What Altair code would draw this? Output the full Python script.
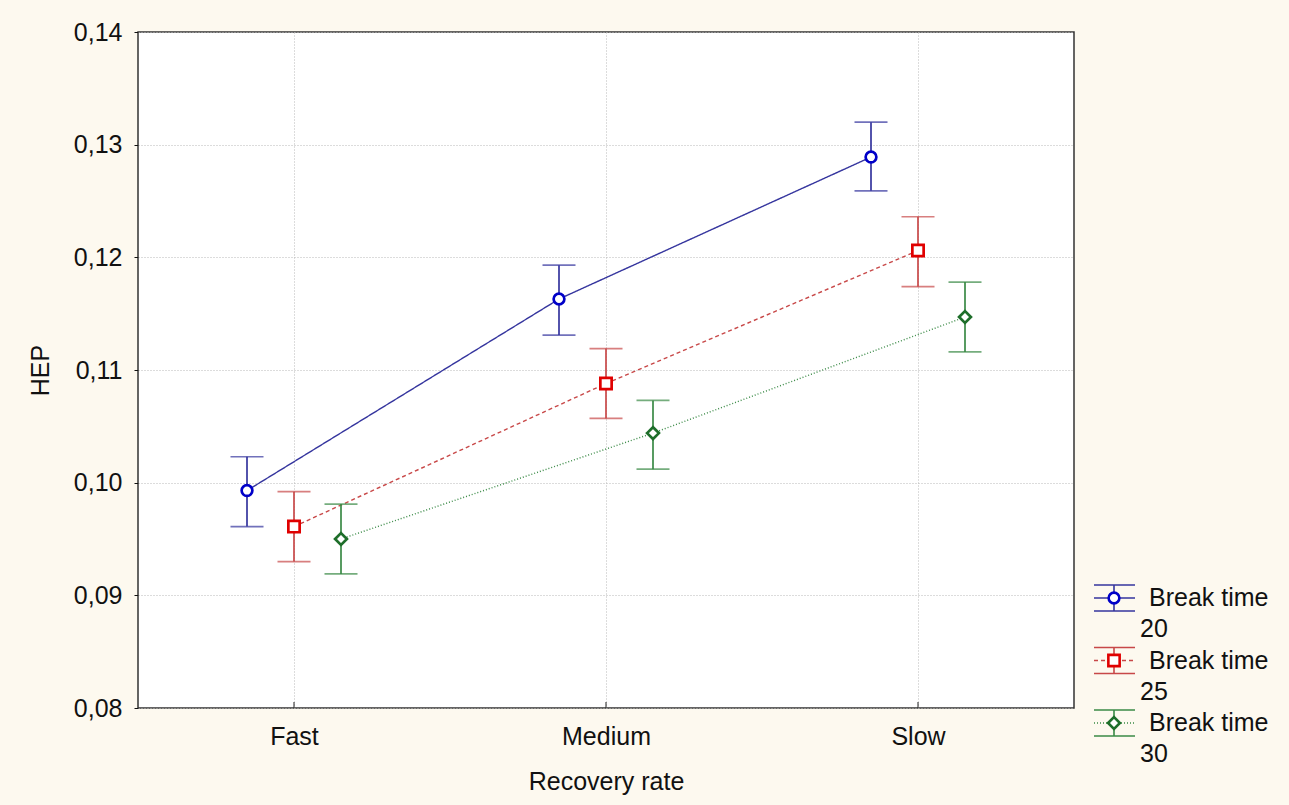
import altair as alt
import pandas as pd

categories = ["Fast", "Medium", "Slow"]
series = ["20", "25", "30"]
legend_label = "Break time"

mean_20 = [0.0993, 0.1163, 0.1289]
lo_20 = [0.0961, 0.1131, 0.1259]
hi_20 = [0.1023, 0.1193, 0.1320]
mean_25 = [0.0961, 0.1088, 0.1206]
lo_25 = [0.0930, 0.1057, 0.1174]
hi_25 = [0.0992, 0.1119, 0.1236]
mean_30 = [0.0950, 0.1044, 0.1147]
lo_30 = [0.0919, 0.1012, 0.1116]
hi_30 = [0.0981, 0.1073, 0.1178]

y_ticks = [0.08, 0.09, 0.10, 0.11, 0.12, 0.13, 0.14]

rows = []
for s, m, lo, hi in [("20", mean_20, lo_20, hi_20), ("25", mean_25, lo_25, hi_25), ("30", mean_30, lo_30, hi_30)]:
    for c, mv, lv, hv in zip(categories, m, lo, hi):
        rows.append({"cat": c, "series": s, "mean": mv, "lo": lv, "hi": hv})
df = pd.DataFrame(rows)
cat_df = pd.DataFrame({"cat": categories})
leg_df = pd.DataFrame({"series": series, "idx": list(range(len(series))), "label": [legend_label] * len(series)})

FONT = "Liberation Sans"
FS = 25
line_colors = ["#35359E", "#C84848", "#3A8A46"]
marker_colors = ["#0000C8", "#E00000", "#1E6E2A"]
dashes = [[1, 0], [4, 3], [1, 2]]

x_enc = alt.X("cat:N", sort=categories,
              scale=alt.Scale(type="point", padding=0.5, domain=categories),
              axis=alt.Axis(title="Recovery rate", labelAngle=0, ticks=False, domain=False,
                            grid=True, gridDash=[1, 2], gridColor="#B8B8B8",
                            labelFont=FONT, labelFontSize=FS, labelColor="#111",
                            labelPadding=16, titleFont=FONT, titleFontSize=FS,
                            titleFontWeight="normal", titleColor="#111", titlePadding=20))
xoff = alt.XOffset("series:N", scale=alt.Scale(type="point", domain=series, range=[-47, 47], padding=0))
y_scale = alt.Scale(domain=[0.08, 0.14], nice=False, zero=False)
y_axis = alt.Axis(title="HEP", values=y_ticks, tickSize=4, tickColor="#111", domain=False,
                  labelExpr="replace(format(datum.value, '.2f'), '.', ',')",
                  labelFont=FONT, labelFontSize=FS, labelColor="#111", labelPadding=12,
                  grid=True, gridDash=[1, 2], gridColor="#B8B8B8",
                  titleFont=FONT, titleFontSize=FS, titleFontWeight="normal",
                  titleColor="#111", titlePadding=20)
color = alt.Color("series:N", scale=alt.Scale(domain=series, range=line_colors), legend=None)
stroke = alt.Stroke("series:N", scale=alt.Scale(domain=series, range=marker_colors), legend=None)
dash = alt.StrokeDash("series:N", scale=alt.Scale(domain=series, range=dashes), legend=None)
shape = alt.Shape("series:N", scale=alt.Scale(domain=series, range=["circle", "square", "diamond"]), legend=None)
size = alt.Size("series:O", scale=alt.Scale(domain=series, range=[115, 140, 175]), legend=None)

base = alt.Chart(df)

lines = base.mark_line(strokeWidth=1.4).encode(
    x=x_enc, xOffset=xoff, y=alt.Y("mean:Q", scale=y_scale, axis=y_axis),
    color=color, strokeDash=dash, detail="series:N")
stems = base.mark_rule(strokeWidth=1.7).encode(
    x=x_enc, xOffset=xoff, y=alt.Y("lo:Q", scale=y_scale, axis=y_axis), y2="hi:Q", color=color)
cap_lo = base.mark_tick(size=33, thickness=1.7, orient="horizontal").encode(
    x=x_enc, xOffset=xoff, y=alt.Y("lo:Q", scale=y_scale, axis=y_axis), color=color)
cap_hi = base.mark_tick(size=33, thickness=1.7, orient="horizontal").encode(
    x=x_enc, xOffset=xoff, y=alt.Y("hi:Q", scale=y_scale, axis=y_axis), color=color)
markers = base.mark_point(fill="white", fillOpacity=1, strokeWidth=2.7, opacity=1).encode(
    x=x_enc, xOffset=xoff, y=alt.Y("mean:Q", scale=y_scale, axis=y_axis),
    stroke=stroke, shape=shape, size=size)

xticks = alt.Chart(cat_df).mark_rule(color="#222", strokeWidth=1).encode(
    x=x_enc, y=alt.value(676), y2=alt.value(670))

# custom legend (layout in pixels)
leg = alt.Chart(leg_df).transform_calculate(
    ly="566 + 62.5 * datum.idx", lt="566 + 62.5 * datum.idx - 13",
    lb="566 + 62.5 * datum.idx + 13", l2="566 + 62.5 * datum.idx + 31")
ly = alt.Y("ly:Q", scale=None, axis=None)
leg_cap_t = leg.mark_rule(strokeWidth=1.6).encode(
    x=alt.value(956), x2=alt.value(997), y=alt.Y("lt:Q", scale=None, axis=None), color=color)
leg_cap_b = leg.mark_rule(strokeWidth=1.6).encode(
    x=alt.value(956), x2=alt.value(997), y=alt.Y("lb:Q", scale=None, axis=None), color=color)
leg_stem = leg.mark_rule(strokeWidth=1.6).encode(
    x=alt.value(976), y=alt.Y("lt:Q", scale=None, axis=None), y2="lb:Q", color=color)
leg_mid = leg.mark_rule(strokeWidth=1.3).encode(
    x=alt.value(956), x2=alt.value(997), y=ly, color=color, strokeDash=dash)
leg_mark = leg.mark_point(fill="white", fillOpacity=1, strokeWidth=2.6, opacity=1).encode(
    x=alt.value(976), y=ly, stroke=stroke, shape=shape, size=size)
leg_t1 = leg.mark_text(align="left", baseline="middle", font=FONT, fontSize=FS, color="#111").encode(
    x=alt.value(1011), y=ly, text="label:N")
leg_t2 = leg.mark_text(align="left", baseline="middle", font=FONT, fontSize=FS, color="#111").encode(
    x=alt.value(1002), y=alt.Y("l2:Q", scale=None, axis=None), text="series:N")

chart = alt.layer(
    lines, stems, cap_lo, cap_hi, markers, xticks,
    leg_cap_t, leg_cap_b, leg_stem, leg_mid, leg_mark, leg_t1, leg_t2
).properties(
    width=936, height=676,
    autosize=alt.AutoSizeParams(type="none"),
    padding={"left": 138, "top": 32, "right": 215, "bottom": 97},
    background="#FDF9EF",
).configure_view(stroke="#333333", strokeWidth=1.5, fill="white")

chart.save("out.html", embed_options={"renderer": "svg", "actions": False})
